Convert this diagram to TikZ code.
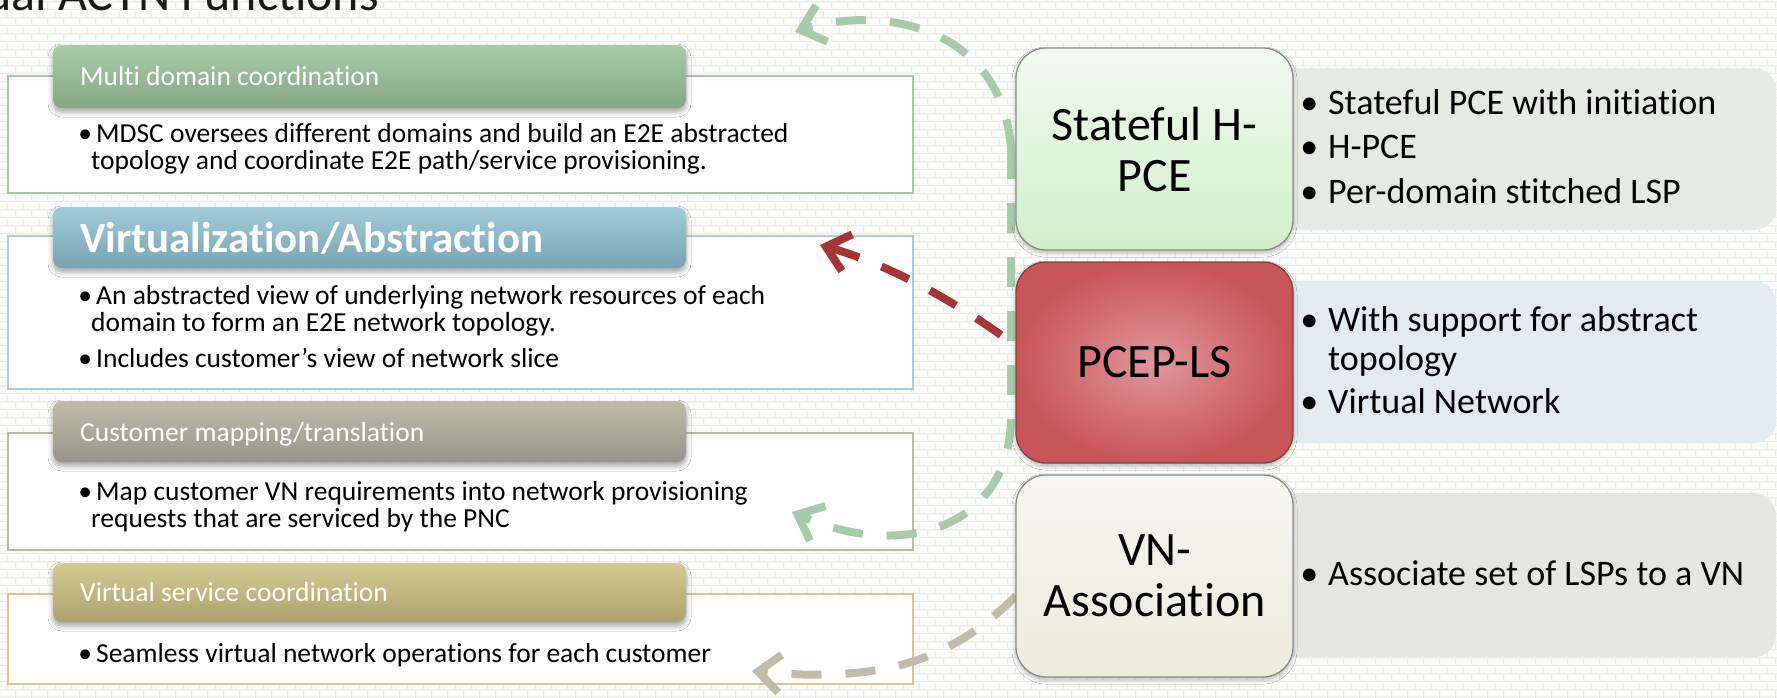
\documentclass[tikz,border=0pt]{standalone}
\usepackage{fontspec}
\setmainfont{Carlito}[Ligatures=NoCommon]
\usetikzlibrary{arrows.meta,shadows.blur,patterns}

% brick texture for the backdrop
\pgfdeclarepatternformonly{wallbricks}{\pgfpointorigin}{\pgfpoint{16pt}{16pt}}{\pgfpoint{16pt}{16pt}}{%
  \pgfsetlinewidth{1.3pt}%
  \pgfpathmoveto{\pgfpoint{0pt}{0.65pt}}\pgfpathlineto{\pgfpoint{16pt}{0.65pt}}%
  \pgfpathmoveto{\pgfpoint{0pt}{8.65pt}}\pgfpathlineto{\pgfpoint{16pt}{8.65pt}}%
  \pgfpathmoveto{\pgfpoint{0.65pt}{0pt}}\pgfpathlineto{\pgfpoint{0.65pt}{8.65pt}}%
  \pgfpathmoveto{\pgfpoint{8.65pt}{8.65pt}}\pgfpathlineto{\pgfpoint{8.65pt}{16pt}}%
  \pgfusepath{stroke}}

\definecolor{bgwhite}{HTML}{FBFCFA}
\definecolor{mortar}{HTML}{E6EEE4}
\definecolor{titlegray}{HTML}{1A1A1A}
% left panels
\definecolor{grnTop}{HTML}{A9CCA7}
\definecolor{grnBot}{HTML}{85A785}
\definecolor{grnLine}{HTML}{A6C7A4}
\definecolor{bluTop}{HTML}{A0CDDA}
\definecolor{bluBot}{HTML}{78A3B2}
\definecolor{bluLine}{HTML}{A9CDD9}
\definecolor{gryTop}{HTML}{BEBCA9}
\definecolor{gryBot}{HTML}{97958A}
\definecolor{gryLine}{HTML}{BDB9A6}
\definecolor{khaTop}{HTML}{D5CA92}
\definecolor{khaBot}{HTML}{ADA26E}
\definecolor{khaLine}{HTML}{D2C891}
% right column
\definecolor{stTop}{HTML}{F2FAF0}
\definecolor{stBot}{HTML}{D1EECB}
\definecolor{plIn}{HTML}{E0979C}
\definecolor{plOut}{HTML}{C85558}
\definecolor{plLine}{HTML}{7E4242}
\definecolor{vnTop}{HTML}{F7F6EF}
\definecolor{vnBot}{HTML}{ECEBDD}
\definecolor{boxLine}{HTML}{858A82}
\definecolor{panA}{HTML}{E5EAE3}
\definecolor{panB}{HTML}{E2ECEE}
\definecolor{panC}{HTML}{E6E6E1}
% connectors
\definecolor{arrGreen}{HTML}{A7CBA9}
\definecolor{arrRed}{HTML}{A63536}
\definecolor{arrGray}{HTML}{C0BCA8}

\newcommand{\bul}{\makebox[0pt][c]{•}\hspace{11pt}}
\newcommand{\rbul}{\makebox[0pt][c]{•}\hspace{19pt}}

\begin{document}
\begin{tikzpicture}[x=1pt,y=-1pt,
  panelbox/.style={draw, line width=1.6pt, fill=white, fill opacity=0.9,
    minimum width=905pt, inner sep=0pt, outer sep=0pt},
  hdr/.style={rounded corners=9pt, minimum width=633pt, inner sep=0pt, outer sep=0pt,
    blur shadow={shadow xshift=0pt, shadow yshift=-4pt, shadow blur radius=5pt, shadow opacity=35}},
  hdrtext/.style={text=white, anchor=base west, inner sep=0pt, font=\fontsize{27.5}{30}\selectfont},
  btext/.style={anchor=base west, inner sep=0pt, font=\fontsize{27.5}{30}\selectfont},
  rbox/.style={rounded corners=30pt, minimum width=277pt, minimum height=202pt, draw,
    line width=1.3pt, align=center, inner sep=0pt, outer sep=0pt,
    font=\fontsize{48}{51}\selectfont,
    blur shadow={shadow xshift=0pt, shadow yshift=-3pt, shadow blur radius=4pt, shadow opacity=25}},
  rpanel/.style={rounded corners=22pt, minimum width=506pt, inner sep=0pt, outer sep=0pt},
  rtext/.style={anchor=base west, inner sep=0pt, font=\fontsize{36}{42}\selectfont},
  dasharrow/.style={line width=8pt, dash pattern=on 30pt off 24pt,
    -{Straight Barb[length=22pt,width=38pt]}}
]
\useasboundingbox (0,0) rectangle (1777,697);

% backdrop
\fill[bgwhite] (0,0) rectangle (1777,697);
\fill[pattern=wallbricks, pattern color=mortar] (0,0) rectangle (1777,697);

% title line
\node[anchor=base east, inner sep=0pt, text=titlegray, font=\fontsize{50}{54}\selectfont]
  (title) at (379,10) {ual ACTN Functions};

% grey description panels on the right
\node[rpanel, fill=panA, minimum height=162pt] (pa) at (1523,149) {};
\node[rpanel, fill=panB, minimum height=162pt] (pb) at (1523,362) {};
\node[rpanel, fill=panC, minimum height=164pt] (pc) at (1523,575) {};

% left function panels
\node[panelbox, draw=grnLine, minimum height=117pt] (p1) at (460.5,134.5) {};
\node[panelbox, draw=bluLine, minimum height=153pt] (p2) at (460.5,312.5) {};
\node[panelbox, draw=gryLine, minimum height=117pt] (p3) at (460.5,491.5) {};
\node[panelbox, draw=khaLine, minimum height=90pt]  (p4) at (460.5,639) {};

\node[hdr, top color=grnTop, bottom color=grnBot, minimum height=63pt] (h1) at (369.5,76.5) {};
\node[hdr, top color=bluTop, bottom color=bluBot, minimum height=61pt] (h2) at (369.5,237.5) {};
\node[hdr, top color=gryTop, bottom color=gryBot, minimum height=61pt] (h3) at (369.5,431.5) {};
\node[hdr, top color=khaTop, bottom color=khaBot, minimum height=59pt] (h4) at (369.5,592.5) {};

\node[hdrtext] (h1t) at (80,85) {Multi domain coordination};
\node[hdrtext, font=\fontsize{43}{46}\selectfont\bfseries] (h2t) at (80,252) {Virtualization/Abstraction};
\node[hdrtext] (h3t) at (80,441) {Customer mapping/translation};
\node[hdrtext] (h4t) at (80,601) {Virtual service coordination};

\node[btext] (b1a) at (85,142) {\bul MDSC oversees different domains and build an E2E abstracted};
\node[btext] (b1b) at (91,169) {topology and coordinate E2E path/service provisioning.};
\node[btext] (b2a) at (85,304) {\bul An abstracted view of underlying network resources of each};
\node[btext] (b2b) at (91,331) {domain to form an E2E network topology.};
\node[btext] (b2c) at (85,367) {\bul Includes customer’s view of network slice};
\node[btext] (b3a) at (85,500) {\bul Map customer VN requirements into network provisioning};
\node[btext] (b3b) at (91,527) {requests that are serviced by the PNC};
\node[btext] (b4a) at (85,662) {\bul Seamless virtual network operations for each customer};

% connector end points
\coordinate (hp) at (1011,149);
\coordinate (gA) at (795,32);
\coordinate (gB) at (792,512);
\coordinate (rA) at (820,245);
\coordinate (yA) at (752,671);
\coordinate (pls) at (1001,335);
\coordinate (vns) at (1016,596);

% connectors (behind the protocol boxes)
\draw[dasharrow, arrGreen] (hp) .. controls (1002,25) and (880,5) .. (gA);
\draw[dasharrow, arrGreen] (hp) -- (1011,420) .. controls (1008,530) and (900,560) .. (gB);
\draw[dasharrow, arrRed] (pls) .. controls (940,292) and (880,262) .. (rA);
\draw[dasharrow, arrGray] (vns) .. controls (960,650) and (900,685) .. (yA);

% protocol boxes
\node[rbox, draw=boxLine, top color=stTop, bottom color=stBot] (st) at (1154.5,149) {Stateful H-\\PCE};
\node[rbox, draw=plLine, inner color=plIn, outer color=plOut, minimum height=201pt] (pl) at (1154.5,362.5) {PCEP-LS};
\node[rbox, draw=boxLine, top color=vnTop, bottom color=vnBot] (vn) at (1154.5,576) {VN-\\Association};

% protocol features
\node[rtext] (ra1) at (1309,114) {\rbul Stateful PCE with initiation};
\node[rtext] (ra2) at (1309,158) {\rbul H-PCE};
\node[rtext] (ra3) at (1309,203) {\rbul Per-domain stitched LSP};
\node[rtext] (rb1) at (1309,331) {\rbul With support for abstract};
\node[rtext] (rb2) at (1328,370) {topology};
\node[rtext] (rb3) at (1309,413) {\rbul Virtual Network};
\node[rtext] (rc1) at (1309,585) {\rbul Associate set of LSPs to a VN};
\end{tikzpicture}
\end{document}
